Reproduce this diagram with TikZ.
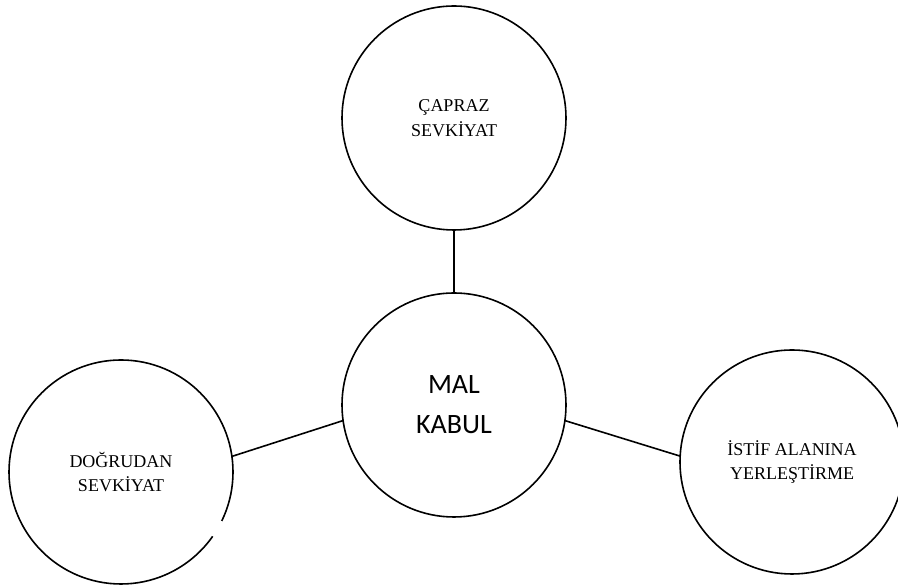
\documentclass[tikz,border=0pt]{standalone}
\usepackage{fontspec}
\setmainfont{Liberation Serif}
\newfontfamily\calfont{Carlito}
\begin{document}
\begin{tikzpicture}[x=1pt,y=1pt,
  bubble/.style={circle, draw=black, line width=1.6pt, minimum size=224pt, inner sep=0pt, outer sep=0pt, align=center},
  serifl/.style={font=\fontsize{18}{24.5}\selectfont},
  mainl/.style={font=\calfont\fontsize{28}{40}\selectfont},
  link/.style={draw=black, line width=1.6pt}]
\useasboundingbox (0,0) rectangle (898,588);
\clip (0,0) rectangle (898,588);
\fill[white] (0,0) rectangle (898,588);
\node[bubble, serifl] (t) at (454,470) {ÇAPRAZ\\SEVKİYAT};
\node[bubble, mainl] (c) at (454,183) {MAL\\KABUL};
\node[bubble, serifl] (l) at (121,116) {DOĞRUDAN\\SEVKİYAT};
\node[bubble, serifl] (r) at (792,126) {İSTİF ALANINA\\YERLEŞTİRME};
\draw[link] (c.90) -- (t.270);
\draw[link] (c.188) -- (l.8);
\draw[link] (c.352) -- (r.177);
\draw[white, line width=4pt] (l.-26) arc[start angle=-26, end angle=-35, radius=112pt];
\end{tikzpicture}
\end{document}
